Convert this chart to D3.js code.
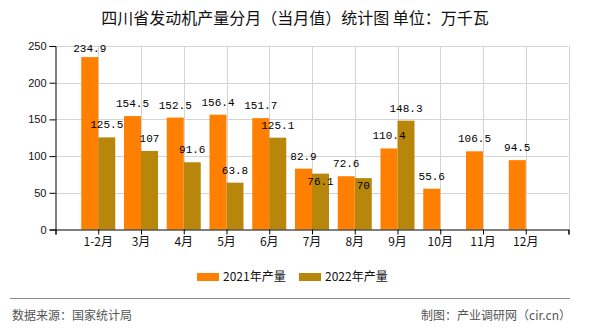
<!DOCTYPE html>
<html><head><meta charset="utf-8">
<script src="https://cdn.jsdelivr.net/npm/d3@7"></script>
<style>body{margin:0;background:#fff}svg{display:block}</style>
</head><body>
<svg id="c" width="590" height="330"></svg>
<script>
const categories = ["1-2月","3月","4月","5月","6月","7月","8月","9月","10月","11月","12月"];
const series2021 = [234.9,154.5,152.5,156.4,151.7,82.9,72.6,110.4,55.6,106.5,94.5];
const series2022 = [125.5,107,91.6,63.8,125.1,76.1,70,148.3,null,null,null];
const seriesNames = ["2021年产量","2022年产量"];
const yTicks = [0,50,100,150,200,250];
const title = "四川省发动机产量分月（当月值）统计图 单位：万千瓦";
const sourceText = "数据来源：国家统计局";
const creditText = "制图：产业调研网（cir.cn）";

const colors = ["#FF8000","#B8860B"];
const svg = d3.select("#c");
const x = d3.scaleLinear().domain([0, categories.length + 1]).range([55.5, 568.5]);
const y = d3.scaleLinear().domain([0, 250]).range([229.5, 46]);
const bw = 17;
const cjk = "'Noto Sans CJK SC','Noto Sans',sans-serif";
const mono = "'Liberation Mono','DejaVu Sans Mono',monospace";

svg.append("text").attr("x", 295).attr("y", 24).attr("text-anchor","middle")
  .attr("font-family", cjk).attr("font-size", 16).attr("fill","#111").text(title);

// grid
const g = svg.append("g");
g.selectAll(".hg").data(yTicks.filter(d=>d>0)).join("line")
  .attr("x1", x(0)).attr("x2", x(categories.length+1))
  .attr("y1", d=>Math.round(y(d))+0.5).attr("y2", d=>Math.round(y(d))+0.5)
  .attr("stroke","#d4d4d4").attr("stroke-width",1);
g.selectAll(".vg").data(d3.range(1, categories.length+2)).join("line")
  .attr("x1", d=>Math.round(x(d))+0.5).attr("x2", d=>Math.round(x(d))+0.5)
  .attr("y1", y(250)).attr("y2", y(0))
  .attr("stroke","#d4d4d4").attr("stroke-width",1);

// bars
const bars = svg.append("g");
categories.forEach((c,i)=>{
  const cx = x(i+1);
  [series2021[i], series2022[i]].forEach((v,k)=>{
    if (v == null) return;
    bars.append("rect").attr("x", k===0 ? cx-bw : cx).attr("width", bw)
      .attr("y", y(v)).attr("height", y(0)-y(v)).attr("fill", colors[k]);
  });
});

// axes
const xAxis = d3.axisBottom(x).tickValues(d3.range(0, categories.length+2)).tickSize(5).tickFormat("");
const xg = svg.append("g").attr("transform", `translate(0,${y(0)})`).call(xAxis);
xg.select(".domain").attr("stroke","#000");
xg.selectAll(".tick line").attr("stroke","#000");
svg.append("g").selectAll("text").data(categories).join("text")
  .attr("x",(d,i)=>x(i+1)).attr("y", 246).attr("text-anchor","middle")
  .attr("font-family", cjk).attr("font-size",12).attr("fill","#111").text(d=>d);

const yAxis = d3.axisLeft(y).tickValues(yTicks).tickSize(6).tickPadding(3);
const yg = svg.append("g").attr("transform", `translate(${x(0)},0)`).call(yAxis);
yg.select(".domain").attr("stroke","#000");
yg.selectAll(".tick line").attr("stroke","#000");
yg.selectAll(".tick text").attr("font-family","'Liberation Sans',Arial,sans-serif").attr("font-size",11).attr("fill","#111");

// value labels
const lab = svg.append("g").attr("font-family", mono).attr("font-size", 11).attr("fill","#000").attr("text-anchor","middle");
categories.forEach((c,i)=>{
  const cx = x(i+1);
  const v1 = series2021[i], v2 = series2022[i];
  const y1 = Math.max(y(v1) - 9, y(250) + 6);
  lab.append("text").attr("x", cx - bw/2).attr("y", y1).text(v1);
  if (v2 != null) {
    let y2 = y(v2) - 9;
    if (Math.abs(y2 - y1) < 12) y2 = y(v2) + 11;
    lab.append("text").attr("x", cx + bw/2).attr("y", y2).text(v2);
  }
});

// legend
const lg = svg.append("g");
const legX = [197, 299];
seriesNames.forEach((n,k)=>{
  lg.append("rect").attr("x", legX[k]).attr("y", 273).attr("width",22).attr("height",8).attr("fill",colors[k]);
  lg.append("text").attr("x", legX[k]+26).attr("y", 281).attr("font-family", cjk).attr("font-size",12).attr("fill","#111").text(n);
});

// footer
svg.append("line").attr("x1",10).attr("x2",570).attr("y1",298.5).attr("y2",298.5).attr("stroke","#888").attr("stroke-width",1);
svg.append("text").attr("x",12).attr("y",320).attr("font-family",cjk).attr("font-size",12).attr("fill","#555").text(sourceText);
svg.append("text").attr("x",571).attr("y",320).attr("text-anchor","end").attr("font-family",cjk).attr("font-size",12).attr("fill","#555").text(creditText);
</script>
</body></html>
